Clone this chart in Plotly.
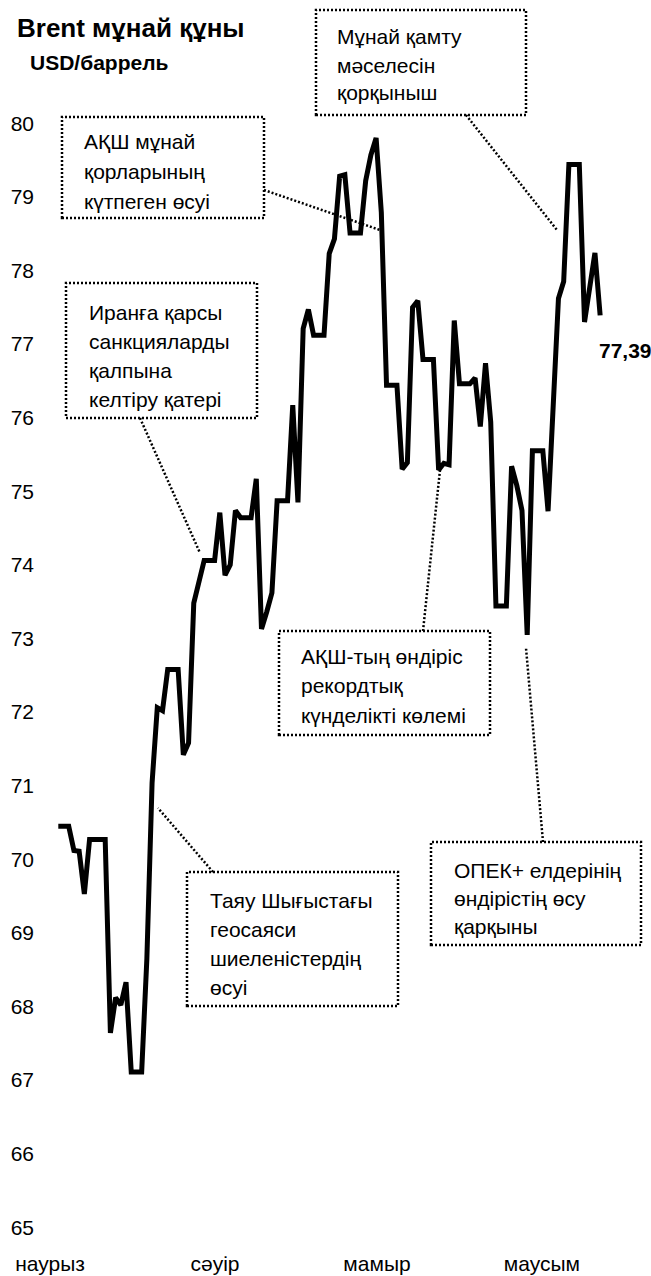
import plotly.graph_objects as go
import pandas as pd

# ---------------- data ----------------
dates = pd.date_range("2018-03-23", periods=105, freq="D")
brent = [
    70.45, 70.45, 70.45, 70.12, 70.11, 69.53, 70.27, 70.27, 70.27, 70.27,
    67.64, 68.12, 68.02, 68.33, 67.11, 67.11, 67.11, 68.65, 71.04, 72.06,
    72.02, 72.58, 72.58, 72.58, 71.42, 71.58, 73.48, 73.78, 74.06, 74.06,
    74.06, 74.71, 73.86, 74.00, 74.74, 74.64, 74.64, 74.64, 75.17, 73.13,
    73.36, 73.62, 74.87, 74.87, 74.87, 76.17, 74.85, 77.21, 77.47, 77.12,
    77.12, 77.12, 78.23, 78.43, 79.28, 79.30, 78.51, 78.51, 78.51, 79.22,
    79.57, 79.80, 78.79, 76.44, 76.44, 76.44, 75.30, 75.39, 77.50, 77.59,
    76.79, 76.79, 76.79, 75.29, 75.38, 75.36, 77.32, 76.46, 76.46, 76.46,
    76.54, 75.88, 76.74, 75.94, 73.44, 73.44, 73.44, 75.34, 75.08, 74.74,
    73.05, 75.55, 75.55, 75.55, 74.73, 76.31, 77.62, 77.85, 79.44, 79.44,
    79.44, 77.30, 77.76, 78.24, 77.39,
]
month_ticks = ["2018-03-21 10:00", "2018-04-22 02:00", "2018-05-23 04:00", "2018-06-23 20:00"]
month_labels = ["наурыз", "сәуір", "мамыр", "маусым"]
y_ticks = list(range(65, 81))
last_label = "77,39"
title_text = "Brent мұнай құны"
subtitle_text = "USD/баррель"
notes = [
    ["Мұнай қамту", "мәселесін", "қорқыныш"],
    ["АҚШ мұнай", "қорларының", "күтпеген өсуі"],
    ["Иранға қарсы", "санкцияларды", "қалпына", "келтіру қатері"],
    ["АҚШ-тың өндіріс", "рекордтық", "күнделікті көлемі"],
    ["Таяу Шығыстағы", "геосаяси", "шиеленістердің", "өсуі"],
    ["ОПЕК+ елдерінің", "өндірістің өсу", "қарқыны"],
]

# ---------------- layout geometry ----------------
W, H = 651, 1276
L, R, T, B = 45, 5, 100, 31
PW = W - L - R
PH = H - T - B
FONT = "Liberation Sans, Arial, sans-serif"

def px(x):
    return (x - L) / PW

def py(y):
    return (T + PH - y) / PH

# box: (left, top, right, bottom, text_left, first_line_y, line_step, connector)
boxes = [
    (316, 10, 526, 115, 335, 37, 28.0, (466, 115, 557, 230)),
    (62, 117, 264, 218, 82, 141, 30.0, (264, 190, 380, 230)),
    (66, 283, 257, 418, 87, 312, 29.0, (140, 418, 200, 553)),
    (279, 631, 490, 735, 299, 656, 29.5, (423, 631, 440, 470)),
    (187, 872, 398, 1006, 208, 900, 29.0, (213, 872, 158, 808)),
    (431, 842, 641, 945, 452, 870, 28.5, (543, 842, 526, 648)),
]
dot = dict(color="black", width=2.5, dash="2px,2px")

shapes = []
annotations = []
for (x0, y0, x1, y1, tx, ty, step, con), lines in zip(boxes, notes):
    shapes.append(dict(type="rect", xref="paper", yref="paper",
                       x0=px(x0), x1=px(x1), y0=py(y1), y1=py(y0),
                       line=dot, fillcolor="rgba(0,0,0,0)", layer="above"))
    cx0, cy0, cx1, cy1 = con
    shapes.append(dict(type="line", xref="paper", yref="paper",
                       x0=px(cx0), y0=py(cy0), x1=px(cx1), y1=py(cy1),
                       line=dot, layer="above"))
    for i, txt in enumerate(lines):
        annotations.append(dict(xref="paper", yref="paper", x=px(tx), y=py(ty + i * step),
                                xanchor="left", yanchor="middle", align="left",
                                text=txt, showarrow=False,
                                font=dict(family=FONT, size=21, color="black")))

annotations.append(dict(xref="paper", yref="paper", x=px(15), y=py(28),
                        xanchor="left", yanchor="middle", text="<b>" + title_text + "</b>",
                        showarrow=False, font=dict(family=FONT, size=26, color="black")))
annotations.append(dict(xref="paper", yref="paper", x=px(28), y=py(63),
                        xanchor="left", yanchor="middle", text="<b>" + subtitle_text + "</b>",
                        showarrow=False, font=dict(family=FONT, size=21, color="black")))
annotations.append(dict(x=dates[-1], y=brent[-1], xref="x", yref="y",
                        xanchor="left", yanchor="middle", xshift=-3, yshift=-35,
                        text="<b>" + last_label + "</b>", showarrow=False,
                        font=dict(family=FONT, size=21, color="black")))

fig = go.Figure()
fig.add_trace(go.Scatter(x=dates, y=brent, mode="lines",
                         line=dict(color="black", width=5),
                         hoverinfo="x+y", showlegend=False))

base = pd.Timestamp("2018-03-23")
px_per_day = 5.21
x0_day = (L - 58.3) / px_per_day
x1_day = (W - R - 58.3) / px_per_day
xr = [base + pd.Timedelta(days=x0_day), base + pd.Timedelta(days=x1_day)]
px_per_unit = 73.6
yr = [80 - (T + PH - 123.3) / px_per_unit, 80 + (123.3 - T) / px_per_unit]

fig.update_layout(
    template="none",
    width=W, height=H,
    margin=dict(l=L, r=R, t=T, b=B, pad=0),
    paper_bgcolor="white", plot_bgcolor="white",
    font=dict(family=FONT, size=21, color="black"),
    showlegend=False,
    shapes=shapes,
    annotations=annotations,
    xaxis=dict(type="date", range=xr, tickmode="array", tickvals=month_ticks,
               ticktext=month_labels, showgrid=False, zeroline=False,
               showline=False, ticks="", automargin=False,
               tickfont=dict(family=FONT, size=21, color="black"),
               ticklabelstandoff=4),
    yaxis=dict(range=yr, tickmode="array", tickvals=y_ticks,
               ticktext=[str(v) for v in y_ticks], showgrid=False,
               zeroline=False, showline=False, ticks="", automargin=False,
               tickfont=dict(family=FONT, size=21, color="black"),
               ticklabelstandoff=10),
)

fig.write_html("out.html", config={"displayModeBar": False},
               post_script="document.body.style.margin='0';document.body.style.overflow='hidden';")
